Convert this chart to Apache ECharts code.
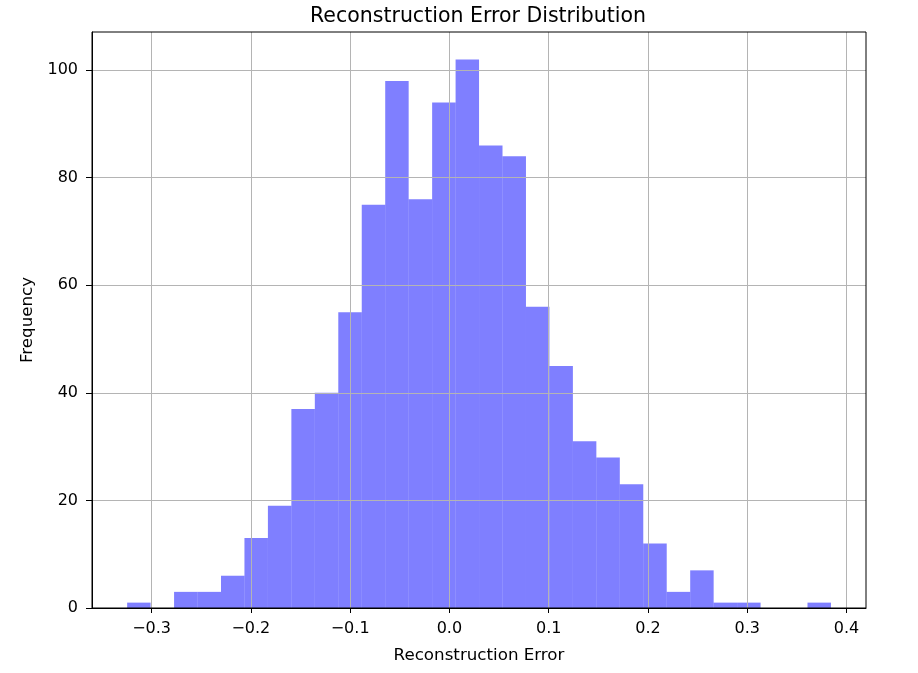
<!DOCTYPE html>
<html>
<head>
<meta charset="utf-8">
<script src="https://cdn.jsdelivr.net/npm/echarts@6/dist/echarts.min.js"></script>
<style>
html,body{margin:0;padding:0;background:#fff;}
#chart{width:918px;height:673px;}
</style>
</head>
<body>
<div id="chart"></div>
<script>
// Histogram data
const binStart = -0.3246;
const binWidth = 0.02363;
const counts = [1, 0, 3, 3, 6, 13, 19, 37, 40, 55,
                75, 98, 76, 94, 102, 86, 84, 56, 45, 31,
                28, 23, 12, 3, 7, 1, 1, 0, 0, 1];
const xTicks = [-0.3, -0.2, -0.1, 0.0, 0.1, 0.2, 0.3, 0.4];
const yTicks = [0, 20, 40, 60, 80, 100];

const xMin = -0.3600, xMax = 0.4196, yMax = 107.1;

const bins = counts.map((c, i) => [binStart + i * binWidth, binStart + (i + 1) * binWidth, c]);

const font = 'DejaVu Sans';
const chart = echarts.init(document.getElementById('chart'), null, {renderer: 'canvas'});

function isTick(v, list) {
  return list.some(t => Math.abs(t - v) < 1e-6);
}

chart.setOption({
  animation: false,
  backgroundColor: '#fff',
  title: {
    text: 'Reconstruction Error Distribution',
    left: 473, top: 1, textAlign: 'center',
    textStyle: {fontFamily: font, fontSize: 20.5, fontWeight: 'normal', color: '#000'}
  },
  grid: {left: 92, right: 52, top: 32, bottom: 65, show: true, borderColor: '#000', borderWidth: 1, backgroundColor: 'transparent', z: 5},
  xAxis: {
    type: 'value', min: xMin, max: xMax, splitNumber: 8, z: 3,
    name: 'Reconstruction Error', nameLocation: 'middle', nameGap: 39,
    nameTextStyle: {fontFamily: font, fontSize: 16.7, color: '#000'},
    axisLine: {show: true, onZero: false, lineStyle: {color: '#000', width: 1}},
    axisTick: {show: true, length: 5, lineStyle: {color: '#000'},
      customValues: xTicks},
    axisLabel: {
      fontFamily: font, fontSize: 16, color: '#000', margin: 13,
      customValues: xTicks,
      formatter: v => isTick(v, xTicks) ? v.toFixed(1).replace('-', '\u2212') : ''
    },
    splitLine: {show: true, lineStyle: {color: '#b4b4b4', width: 1}, customValues: xTicks}
  },
  yAxis: {
    type: 'value', min: 0, max: yMax, z: 3,
    name: 'Frequency', nameLocation: 'middle', nameGap: 54, nameRotate: 90,
    nameTextStyle: {fontFamily: font, fontSize: 16.7, color: '#000'},
    axisLine: {show: true, onZero: false, lineStyle: {color: '#000', width: 1}},
    axisTick: {show: true, length: 6, lineStyle: {color: '#000'}, customValues: yTicks},
    axisLabel: {
      fontFamily: font, fontSize: 16, color: '#000', margin: 14,
      customValues: yTicks,
      formatter: v => isTick(v, yTicks) ? String(v) : ''
    },
    splitLine: {show: true, lineStyle: {color: '#b4b4b4', width: 1}, customValues: yTicks}
  },
  series: [{
    type: 'custom',
    z: 1,
    data: bins,
    encode: {x: [0, 1], y: 2},
    renderItem: function (params, api) {
      const p0 = api.coord([api.value(0), 0]);
      const p1 = api.coord([api.value(1), api.value(2)]);
      return {
        type: 'rect',
        shape: {x: p0[0], y: p1[1], width: p1[0] - p0[0], height: p0[1] - p1[1]},
        style: {fill: 'rgba(0,0,255,0.5)'}
      };
    }
  }]
});
</script>
</body>
</html>
